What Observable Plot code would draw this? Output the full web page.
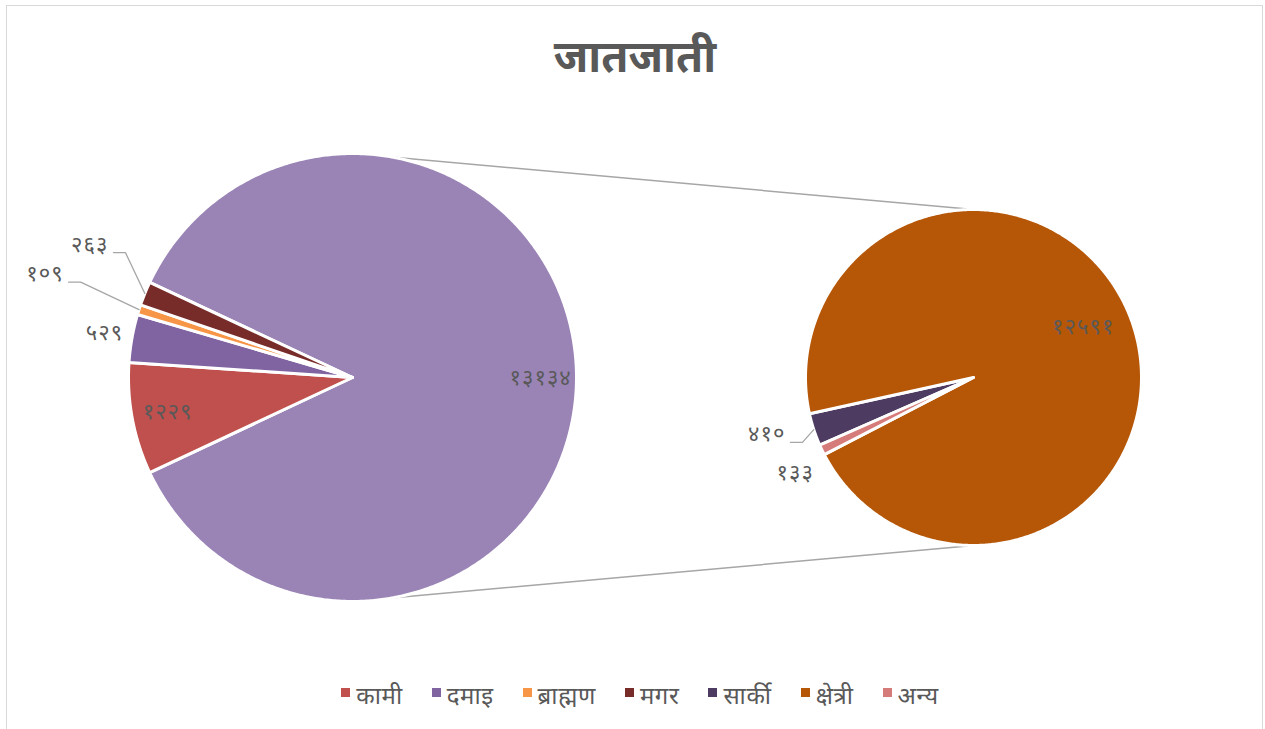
<!DOCTYPE html>
<html>
<head>
<meta charset="utf-8">
<script src="https://cdn.jsdelivr.net/npm/d3@7"></script>
<script src="https://cdn.jsdelivr.net/npm/@observablehq/plot@0.6"></script>
<style>
  html, body { margin: 0; padding: 0; background: #fff; }
  body { font-family: "Noto Sans", "Noto Sans Devanagari", "Lohit Devanagari", sans-serif; color: #595959; }
  #wrap { position: relative; width: 1265px; height: 729px; overflow: hidden; }
  #frame { position: absolute; left: 6px; top: 5px; width: 1257px; height: 730px; border: 1.5px solid #d9d9d9; box-sizing: border-box; }
  #title { position: absolute; left: 0; top: 27px; width: 1270px; text-align: center; font-size: 44px; font-weight: bold; line-height: 56px; color: #595959; }
  #chart { position: absolute; left: 0; top: 100px; }
  #chart text { letter-spacing: 1px; }
  #legend { position: absolute; left: 0; top: 676px; width: 1280px; display: flex; justify-content: center; gap: 29px; font-size: 24px; line-height: 38px; color: #595959; letter-spacing: 0.6px; }
  #legend .item { display: flex; align-items: center; gap: 6px; }
  #legend .sw { width: 9px; height: 9px; display: inline-block; position: relative; top: -3px; }
</style>
</head>
<body>
<div id="wrap">
  <div id="frame"></div>
  <div id="title">जातजाती</div>
  <div id="chart"></div>
  <div id="legend"></div>
</div>
<script>
// ---- data ----
const primaryCategories = ["कामी", "दमाइ", "ब्राह्मण", "मगर"];
const primaryValues = [1229, 529, 109, 263];
const secondaryCategories = ["सार्की", "क्षेत्री", "अन्य"];
const secondaryValues = [410, 12591, 133];
const legendOrder = ["कामी", "दमाइ", "ब्राह्मण", "मगर", "सार्की", "क्षेत्री", "अन्य"];

// ---- styles ----
const colors = {
  "कामी": "#C0504D", "दमाइ": "#8064A2", "ब्राह्मण": "#F79646", "मगर": "#772C2A",
  "सार्की": "#4D3B62", "क्षेत्री": "#B65708", "अन्य": "#D57B79", "other": "#9A84B6"
};
const textColor = "#595959";
const lineColor = "#A6A6A6";

// ---- layout (page pixel space) ----
const W = 1265, SVG_TOP = 100, SVG_H = 560;
const leftPie = {cx: 352, cy: 377, r: 224};
const rightPie = {cx: 973, cy: 377, r: 168};
const secondaryStartDeg = 246.3;
// label placement: mode, radius factor, angle shift (deg)
const placement = {
  "other": {mode: "inside", rf: 0.84, da: 0},
  "कामी": {mode: "inside", rf: 0.84, da: 0},
  "दमाइ": {mode: "outside", rf: 1.125, da: 0},
  "ब्राह्मण": {mode: "leader", rf: 1.286, da: 1.7},
  "मगर": {mode: "leader", rf: 1.157, da: 6.8},
  "सार्की": {mode: "leader", rf: 1.089, da: -2.7},
  "क्षेत्री": {mode: "inside", rf: 0.72, da: -5},
  "अन्य": {mode: "outside", rf: 1.204, da: -2.7}
};

const devDigits = "०१२३४५६७८९";
const toDev = n => String(n).replace(/[0-9]/g, d => devDigits[+d]);
const rad = d => d * Math.PI / 180;
const polar = (p, a, rf) => [p.cx + p.r * rf * Math.sin(a), p.cy - p.r * rf * Math.cos(a)];

// build slices
const otherTotal = d3.sum(secondaryValues);
const primaryAll = [{key: "other", value: otherTotal}, ...primaryCategories.map((k, i) => ({key: k, value: primaryValues[i]}))];
const primaryTotal = d3.sum(primaryAll, d => d.value);
const otherSpan = 2 * Math.PI * otherTotal / primaryTotal;
let a = rad(90) - otherSpan / 2;
const slices = [];
for (const d of primaryAll) {
  const span = 2 * Math.PI * d.value / primaryTotal;
  slices.push({...d, pie: leftPie, a0: a, a1: a + span});
  a += span;
}
a = rad(secondaryStartDeg);
secondaryCategories.forEach((k, i) => {
  const span = 2 * Math.PI * secondaryValues[i] / otherTotal;
  slices.push({key: k, value: secondaryValues[i], pie: rightPie, a0: a, a1: a + span});
  a += span;
});

const polyPts = [];
slices.forEach((s, i) => {
  const p = s.pie;
  polyPts.push({id: i, x: p.cx, y: p.cy, color: colors[s.key]});
  const n = Math.max(4, Math.ceil((s.a1 - s.a0) / rad(0.5)));
  for (let j = 0; j <= n; j++) {
    const t = s.a0 + (s.a1 - s.a0) * j / n;
    const [x, y] = polar(p, t, 1);
    polyPts.push({id: i, x, y, color: colors[s.key]});
  }
  polyPts.push({id: i, x: p.cx, y: p.cy, color: colors[s.key]});
});

// connector lines between pies
const connectors = [
  {id: "top", x: leftPie.cx, y: leftPie.cy - leftPie.r},
  {id: "top", x: rightPie.cx, y: rightPie.cy - rightPie.r},
  {id: "bot", x: leftPie.cx, y: leftPie.cy + leftPie.r},
  {id: "bot", x: rightPie.cx, y: rightPie.cy + rightPie.r}
];

// labels
const labelsMid = [];
const labelsEnd = [];
const leaders = [];
slices.forEach((s, i) => {
  const pl = placement[s.key];
  const mid = (s.a0 + s.a1) / 2;
  const txt = toDev(s.value);
  if (pl.mode === "leader") {
    const e = polar(s.pie, mid, 1.0);
    const el = polar(s.pie, mid + rad(pl.da), pl.rf);
    leaders.push({id: i, x: e[0], y: e[1]}, {id: i, x: el[0], y: el[1]}, {id: i, x: el[0] - 12, y: el[1]});
    labelsEnd.push({x: el[0] - 17, y: el[1] - 8, text: txt});
  } else {
    const [x, y] = polar(s.pie, mid + rad(pl.da), pl.rf);
    labelsMid.push({x, y, text: txt});
  }
});

const chart = Plot.plot({
  width: W,
  height: SVG_H,
  margin: 0,
  x: {domain: [0, W], range: [0, W], axis: null},
  y: {domain: [SVG_TOP, SVG_TOP + SVG_H], range: [0, SVG_H], axis: null},
  color: {type: "identity"},
  style: {fontFamily: '"Noto Sans", "Noto Sans Devanagari", sans-serif', background: "transparent"},
  marks: [
    Plot.line(connectors, {x: "x", y: "y", z: "id", stroke: lineColor, strokeWidth: 1.5}),
    Plot.line(polyPts, {x: "x", y: "y", z: "id", fill: "color", stroke: "white", strokeWidth: 3, strokeLinejoin: "round"}),
    Plot.line(leaders, {x: "x", y: "y", z: "id", stroke: lineColor, strokeWidth: 1.3}),
    Plot.text(labelsMid, {x: "x", y: "y", text: "text", textAnchor: "middle", fill: textColor, fontSize: 22}),
    Plot.text(labelsEnd, {x: "x", y: "y", text: "text", textAnchor: "end", fill: textColor, fontSize: 22})
  ]
});
document.getElementById("chart").appendChild(chart);

// legend
const leg = document.getElementById("legend");
legendOrder.forEach(k => {
  const it = document.createElement("span");
  it.className = "item";
  const sw = document.createElement("span");
  sw.className = "sw";
  sw.style.background = colors[k];
  const t = document.createElement("span");
  t.textContent = k;
  it.appendChild(sw); it.appendChild(t);
  leg.appendChild(it);
});
</script>
</body>
</html>
